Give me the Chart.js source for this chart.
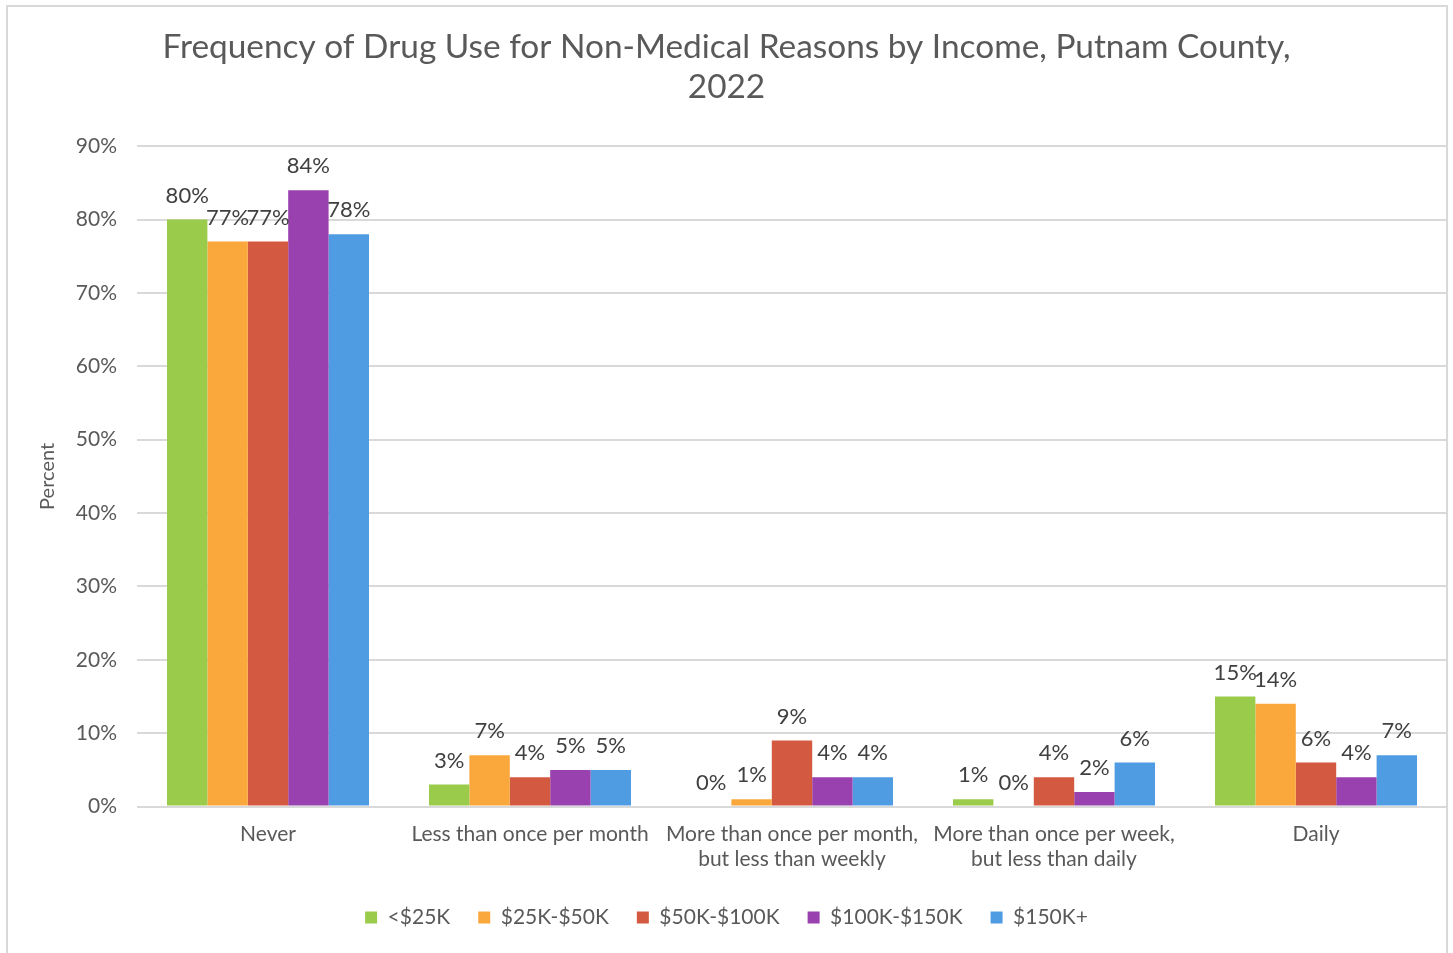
<!DOCTYPE html>
<html>
<head>
<meta charset="utf-8">
<script src="https://cdn.jsdelivr.net/npm/chart.js@4"></script>
<style>
  html, body { margin: 0; padding: 0; background: #ffffff; }
  #wrap { position: relative; width: 1453px; height: 953px; }
</style>
</head>
<body>
<div id="wrap"><canvas id="drugChart"></canvas></div>
<script>
const categories = [
  "Never",
  "Less than once per month",
  ["More than once per month,", "but less than weekly"],
  ["More than once per week,", "but less than daily"],
  "Daily"
];
const seriesNames = ["<$25K", "$25K-$50K", "$50K-$100K", "$100K-$150K", "$150K+"];
const under25k = [80, 3, 0, 1, 15];
const from25to50k = [77, 7, 1, 0, 14];
const from50to100k = [77, 4, 9, 4, 6];
const from100to150k = [84, 5, 4, 2, 4];
const over150k = [78, 5, 4, 6, 7];
const yTicks = [0, 10, 20, 30, 40, 50, 60, 70, 80, 90];

const colors = ["#9BCB4B", "#FAA83B", "#D35A41", "#9841AF", "#4F9CE3"];
const fontFamily = "Lato, 'Open Sans', sans-serif";
const textColor = "#595959";

const frame = {
  id: "frame",
  beforeDraw(chart) {
    const ctx = chart.ctx;
    ctx.save();
    ctx.fillStyle = "#ffffff";
    ctx.fillRect(0, 0, chart.width, chart.height);
    ctx.strokeStyle = "#d9d9d9";
    ctx.lineWidth = 2;
    ctx.strokeRect(7, 6, 1440, 1000);
    ctx.restore();
  }
};

const valueLabels = {
  id: "valueLabels",
  afterDatasetsDraw(chart) {
    const ctx = chart.ctx;
    ctx.save();
    ctx.font = "22px " + fontFamily;
    ctx.fillStyle = "#404040";
    ctx.textAlign = "center";
    ctx.textBaseline = "middle";
    chart.data.datasets.forEach((ds, i) => {
      chart.getDatasetMeta(i).data.forEach((bar, j) => {
        ctx.fillText(ds.data[j] + "%", bar.x, bar.y - 24);
      });
    });
    ctx.restore();
  }
};

const allSeries = [under25k, from25to50k, from50to100k, from100to150k, over150k];

new Chart(document.getElementById("drugChart"), {
  type: "bar",
  data: {
    labels: categories,
    datasets: allSeries.map((values, i) => ({
      label: seriesNames[i],
      data: values,
      backgroundColor: colors[i],
      borderWidth: 0,
      categoryPercentage: 0.771,
      barPercentage: 1
    }))
  },
  options: {
    responsive: true,
    maintainAspectRatio: false,
    animation: false,
    layout: {
      padding: { left: 6, right: 6, top: 0, bottom: 15 }
    },
    plugins: {
      title: {
        display: true,
        text: ["Frequency of Drug Use for Non-Medical Reasons by Income, Putnam County,", "2022"],
        color: textColor,
        font: { family: fontFamily, size: 33.4, weight: "normal", lineHeight: 1.2 },
        padding: { top: 27, bottom: 39 }
      },
      legend: {
        position: "bottom",
        labels: {
          color: textColor,
          font: { family: fontFamily, size: 21 },
          boxWidth: 12,
          boxHeight: 12,
          padding: 28
        }
      },
      tooltip: { enabled: false }
    },
    scales: {
      x: {
        grid: { display: false },
        border: { display: false },
        ticks: {
          color: textColor,
          font: { family: fontFamily, size: 21 },
          maxRotation: 0,
          autoSkip: false,
          padding: 7
        }
      },
      y: {
        min: 0,
        max: 90,
        afterBuildTicks(scale) {
          scale.ticks = yTicks.map((v) => ({ value: v }));
        },
        afterFit(scale) {
          scale.width = 131;
        },
        grid: { color: "#d9d9d9", lineWidth: 2, drawTicks: false },
        border: { display: false },
        title: {
          display: true,
          text: "Percent",
          color: textColor,
          font: { family: fontFamily, size: 20 },
          padding: { top: 30, bottom: 0 }
        },
        ticks: {
          color: textColor,
          font: { family: fontFamily, size: 21 },
          padding: 20,
          callback: (v) => v + "%"
        }
      }
    }
  },
  plugins: [frame, valueLabels]
});
</script>
</body>
</html>
